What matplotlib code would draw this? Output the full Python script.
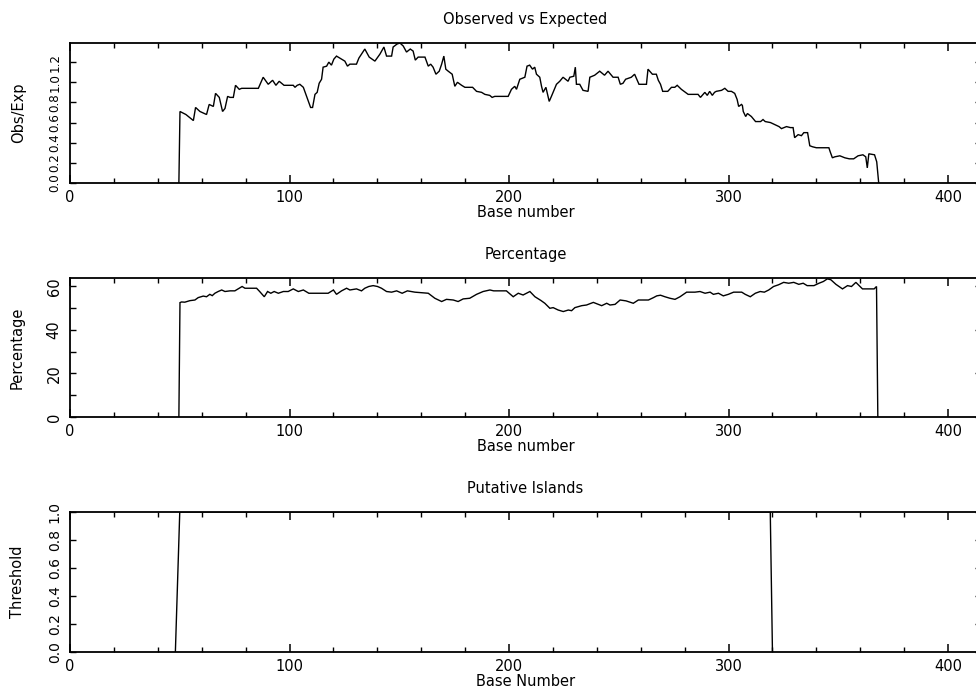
import matplotlib
matplotlib.use("Agg")
import matplotlib.pyplot as plt
from matplotlib.ticker import MultipleLocator, FormatStrFormatter

# ---------------- data ----------------
obs_x = [49.6, 50.1, 52.8, 56.2, 57.2, 59.2, 62.2, 63.4, 65.3, 66.3, 68.0, 69.5, 70.6, 71.8, 72.9,
         74.4, 75.4, 77.1, 78.2, 85.8, 88.0, 90.3, 92.3, 93.8, 95.3, 97.5, 101.7, 102.5, 103.5,
         104.7, 106.3, 107.8, 109.6, 110.5, 111.6, 112.6, 113.5, 114.6, 115.3, 116.9, 117.9,
         119.1, 120.2, 121.4, 123.7, 125.2, 126.4, 127.5, 130.5, 131.6, 134.3, 136.3, 138.9,
         141.2, 143.0, 144.2, 146.5, 147.2, 149.0, 150.3, 151.8, 153.3, 155.0, 156.3, 157.3,
         158.6, 161.7, 163.2, 164.3, 165.4, 166.7, 168.2, 169.3, 170.3, 171.2, 172.3, 174.1,
         175.3, 176.5, 178.4, 179.9, 183.4, 185.2, 187.5, 189.0, 191.2, 192.3, 193.5, 199.6,
         201.1, 202.6, 203.4, 204.9, 207.2, 208.2, 209.4, 210.7, 211.7, 212.5, 214.0, 214.8,
         215.5, 216.8, 218.3, 219.3, 221.6, 223.1, 224.6, 226.9, 227.7, 229.5, 230.2, 230.7,
         232.2, 233.7, 236.0, 236.8, 239.0, 241.3, 243.5, 245.1, 247.4, 249.7, 250.7, 251.9,
         253.1, 255.7, 257.2, 259.2, 262.6, 263.3, 265.3, 267.1, 268.0, 269.0, 270.0, 272.3,
         274.0, 275.5, 276.6, 278.5, 281.6, 286.1, 287.2, 289.2, 290.3, 291.4, 292.6, 293.6,
         294.4, 296.8, 298.3, 299.8, 301.3, 302.8, 303.9, 304.6, 305.9, 306.3, 306.7, 307.8,
         308.6, 310.4, 312.3, 314.6, 315.7, 316.7, 319.1, 321.0, 323.0, 324.1, 326.4, 328.2,
         329.4, 330.1, 331.7, 333.2, 334.3, 336.0, 337.0, 338.2, 340.0, 345.7, 346.3, 347.3,
         348.4, 350.7, 353.0, 355.0, 357.0, 359.0, 361.2, 362.5, 363.2, 363.9, 366.5, 367.5,
         368.4]
obs_y = [0.0, 0.71, 0.68, 0.62, 0.75, 0.71, 0.68, 0.78, 0.76, 0.89, 0.85, 0.71, 0.74, 0.86, 0.85,
         0.85, 0.97, 0.93, 0.94, 0.94, 1.05, 0.98, 1.02, 0.97, 1.01, 0.97, 0.97, 0.95, 0.97,
         0.98, 0.95, 0.86, 0.75, 0.75, 0.88, 0.90, 0.99, 1.03, 1.15, 1.16, 1.20,
         1.17, 1.23, 1.26, 1.23, 1.21, 1.16, 1.18, 1.18, 1.24, 1.33, 1.25, 1.21,
         1.28, 1.35, 1.26, 1.26, 1.35, 1.38, 1.39, 1.36, 1.30, 1.33, 1.31, 1.22,
         1.25, 1.25, 1.16, 1.18, 1.15, 1.08, 1.11, 1.18, 1.26, 1.13, 1.11, 1.08,
         0.96, 1.00, 0.97, 0.95, 0.95, 0.91, 0.90, 0.88, 0.87, 0.85, 0.86, 0.86,
         0.93, 0.96, 0.93, 1.03, 1.05, 1.16, 1.17, 1.13, 1.15, 1.08, 1.05, 0.96,
         0.90, 0.95, 0.81, 0.86, 0.98, 1.01, 1.05, 1.01, 1.05, 1.06, 1.15, 0.98,
         0.98, 0.92, 0.91, 1.05, 1.07, 1.11, 1.07, 1.11, 1.05, 1.05, 0.98, 0.99,
         1.03, 1.05, 1.08, 0.98, 0.98, 1.13, 1.08, 1.08, 1.02, 0.98, 0.91, 0.91,
         0.95, 0.95, 0.97, 0.93, 0.88, 0.88, 0.85, 0.90, 0.87, 0.91, 0.87, 0.90,
         0.91, 0.92, 0.94, 0.91, 0.91, 0.89, 0.83, 0.76, 0.78, 0.77, 0.71, 0.66,
         0.69, 0.66, 0.61, 0.61, 0.63, 0.61, 0.60, 0.58, 0.56, 0.54, 0.56, 0.55,
         0.55, 0.45, 0.48, 0.47, 0.50, 0.50, 0.37, 0.36, 0.35, 0.35, 0.31, 0.25,
         0.26, 0.27, 0.25, 0.24, 0.24, 0.27, 0.28, 0.26, 0.15, 0.29, 0.28, 0.21,
         0.0]

pct_x = [49.6, 50.1, 50.8, 52.3, 54.6, 56.9, 58.4, 60.7, 62.2, 63.7, 64.8, 66.0, 67.5, 69.1, 70.6,
         72.9, 75.1, 76.6, 78.4, 79.7, 85.0, 86.4, 88.5, 90.0, 91.5, 93.0, 94.9, 97.2, 99.4,
         101.7, 104.0, 106.3, 108.8, 117.6, 120.0, 121.4, 123.7, 126.0, 127.5, 130.5, 132.8,
         134.3, 136.1, 138.1, 140.1, 141.9, 144.2, 146.5, 148.8, 151.3, 153.7, 157.1, 163.2,
         166.2, 169.3, 171.5, 174.6, 176.8, 179.1, 182.1, 185.2, 188.2, 191.3, 193.0, 198.8,
         201.9, 204.2, 206.4, 209.5, 211.8, 214.5, 216.3, 218.6, 220.1, 222.4, 224.7, 227.0,
         228.5, 230.0, 233.1, 235.3, 238.4, 240.7, 242.2, 244.5, 246.0, 248.3, 250.6, 253.3,
         256.6, 258.9, 263.5, 265.8, 267.3, 269.0, 271.0, 273.3, 275.6, 277.9, 280.9, 284.7,
         287.0, 289.3, 291.6, 293.1, 295.4, 297.6, 299.9, 302.3, 306.0, 307.6, 309.9, 312.2,
         314.4, 316.3, 318.3, 320.5, 322.8, 325.1, 327.4, 329.7, 332.0, 334.0, 335.8, 338.9,
         341.2, 343.2, 345.0, 346.6, 348.9, 351.9, 354.2, 356.0, 358.0, 361.0, 366.3, 367.4,
         368.0]
pct_y = [0.0, 52.5, 52.8, 52.7, 53.4, 53.7, 54.8, 55.5, 55.2, 56.3, 55.7, 56.8, 57.6, 58.3, 57.6,
         57.9, 57.9, 58.8, 59.9, 59.1, 59.1, 57.6, 55.2, 57.6, 56.8, 57.6, 56.8, 57.6, 57.6,
         58.8, 57.6, 58.3, 56.8, 56.8, 58.3, 56.3, 57.9, 59.1, 58.3, 58.8, 57.9,
         59.1, 59.9, 60.3, 59.9, 59.1, 57.6, 57.3, 57.9, 56.8, 57.9, 57.3, 56.8,
         54.5, 53.0, 54.0, 53.7, 53.0, 54.2, 54.5, 56.3, 57.6, 58.3, 57.9, 57.9,
         55.2, 56.8, 56.0, 57.6, 55.2, 53.5, 52.2, 49.9, 50.2, 49.1, 48.4, 49.1,
         48.8, 50.2, 51.1, 51.4, 52.6, 51.7, 51.1, 52.2, 51.4, 51.7, 53.7, 53.3,
         52.2, 53.7, 53.7, 54.8, 55.6, 55.9, 55.2, 54.5, 54.0, 55.2, 57.3, 57.3,
         57.6, 56.8, 57.3, 56.3, 56.8, 55.6, 56.3, 57.3, 57.3, 56.3, 55.2, 56.8,
         57.6, 57.3, 58.3, 59.9, 60.7, 61.8, 61.4, 61.8, 60.9, 61.4, 60.3, 60.3,
         61.4, 62.2, 63.4, 63.0, 60.9, 58.8, 60.3, 59.9, 61.8, 58.8, 58.8, 59.9,
         0.0]

isl_x = [48, 50, 319, 320]
isl_y = [0, 1, 1, 0]

titles = ["Observed vs Expected", "Percentage", "Putative Islands"]
ylabels = ["Obs/Exp", "Percentage", "Threshold"]
xlabels = ["Base number", "Base number", "Base Number"]

# ---------------- figure ----------------
W, H = 976, 687
fig = plt.figure(figsize=(W / 100, H / 100), dpi=100)
plt.rcParams['font.family'] = ['DejaVu Sans']

def px_axes(left, right, top, bottom):
    return fig.add_axes([left / W, 1 - bottom / H, (right - left) / W, (bottom - top) / H])

ax1 = px_axes(70, 981, 43, 183)
ax2 = px_axes(70, 981, 278, 417)
ax3 = px_axes(70, 981, 512, 652)

XMAX = 415
series = [(obs_x, obs_y), (pct_x, pct_y), (isl_x, isl_y)]
ylims = [(0, 1.39), (0, 63.8), (0, 1.0)]
ymaj = [0.2, 20, 0.2]
ymin = [None, 10, None]
yfmt = ["%.1f", "%d", "%.1f"]
ysize = [8.6, 10.5, 10.0]

for i, ax in enumerate([ax1, ax2, ax3]):
    xs, ys = series[i]
    ax.plot(xs, ys, color="black", lw=1.0, solid_joinstyle="miter")
    ax.set_xlim(0, XMAX)
    ax.set_ylim(*ylims[i])
    ax.xaxis.set_major_locator(MultipleLocator(100))
    ax.xaxis.set_minor_locator(MultipleLocator(20))
    ax.yaxis.set_major_locator(MultipleLocator(ymaj[i]))
    if ymin[i]:
        ax.yaxis.set_minor_locator(MultipleLocator(ymin[i]))
    ax.yaxis.set_major_formatter(FormatStrFormatter(yfmt[i]))
    ax.tick_params(axis="x", which="major", direction="in", top=True, bottom=True,
                   length=6, width=1.1, labelsize=10.5, pad=5, colors="black")
    ax.tick_params(axis="x", which="minor", direction="in", top=True, bottom=True,
                   length=3.5, width=1.0)
    ax.tick_params(axis="y", which="major", direction="in", left=True, right=True,
                   length=4, width=1.0, labelsize=ysize[i], pad=6)
    ax.tick_params(axis="y", which="minor", direction="in", left=True, right=False,
                   length=4, width=1.0)
    for lab in ax.get_yticklabels():
        lab.set_rotation(90)
        lab.set_va("center")
    for sp in ax.spines.values():
        sp.set_linewidth(1.3)
    ax.set_title(titles[i], fontsize=10.5, pad=14)
    ax.set_xlabel(xlabels[i], fontsize=10.5, labelpad=0)
    ax.set_ylabel(ylabels[i], fontsize=10.5, labelpad=16)

fig.savefig("out.png", dpi=100)
